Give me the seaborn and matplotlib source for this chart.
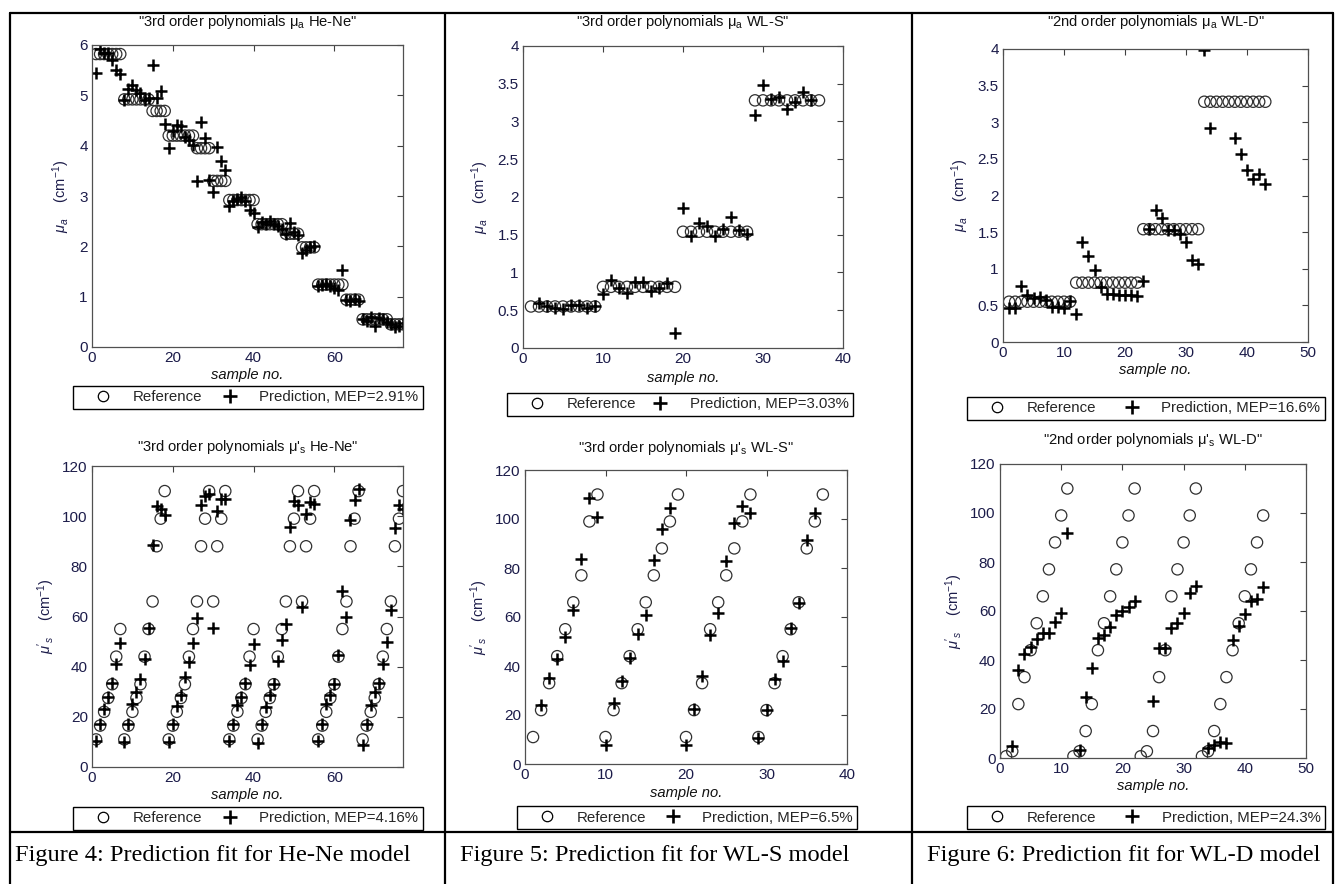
import numpy as np
import matplotlib
matplotlib.use("Agg")
import matplotlib.pyplot as plt
from matplotlib.lines import Line2D
from matplotlib.ticker import FuncFormatter
import seaborn as sns

sns.set_style("white")
plt.rcParams["font.family"] = ["Liberation Sans", "DejaVu Sans"]
plt.rcParams["mathtext.fontset"] = "custom"
plt.rcParams["mathtext.rm"] = "Liberation Sans"
plt.rcParams["mathtext.it"] = "Liberation Sans:italic"

# ---- data ----
hene_mua_ref = [5.82, 5.82, 5.82, 5.82, 5.82, 5.82, 5.82,
                4.92, 4.92, 4.92, 4.92, 4.92, 4.92, 4.92,
                4.69, 4.69, 4.69, 4.69,
                4.20, 4.20, 4.20, 4.20, 4.20, 4.20, 4.20,
                3.95, 3.95, 3.95, 3.95,
                3.30, 3.30, 3.30, 3.30,
                2.92, 2.92, 2.92, 2.92, 2.92, 2.92, 2.92,
                2.44, 2.44, 2.44, 2.44, 2.44, 2.44, 2.44,
                2.25, 2.25, 2.25, 2.25,
                1.98, 1.98, 1.98, 1.98,
                1.24, 1.24, 1.24, 1.24, 1.24, 1.24, 1.24,
                0.94, 0.94, 0.94, 0.94,
                0.55, 0.55, 0.55, 0.55, 0.55, 0.55, 0.55,
                0.45, 0.45, 0.45, 0.45]
hene_mua_pred = [5.44, 5.92, 5.85, 5.84, 5.70, 5.50, 5.42,
                 4.90, 5.12, 5.20, 5.10, 5.05, 4.90, 4.95,
                 5.60, 4.94, 5.08, 4.44,
                 3.95, 4.30, 4.42, 4.40, 4.18, 4.12, 4.02,
                 3.30, 4.47, 4.15, 3.32,
                 3.08, 3.97, 3.70, 3.52,
                 2.80, 2.90, 2.95, 2.98, 2.90, 2.72, 2.66,
                 2.38, 2.48, 2.45, 2.50, 2.44, 2.40, 2.35,
                 2.25, 2.47, 2.28, 2.22,
                 1.86, 1.93, 1.98, 2.00,
                 1.22, 1.24, 1.25, 1.22, 1.18, 1.13, 1.53,
                 0.94, 0.92, 0.95, 0.92,
                 0.55, 0.52, 0.60, 0.42, 0.58, 0.55, 0.50,
                 0.46, 0.40, 0.42, 0.48]
hene_mus_ref = [11, 16.5, 22, 27.5, 33, 44, 55,
                11, 16.5, 22, 27.5, 33, 44, 55,
                66, 88, 99, 110,
                11, 16.5, 22, 27.5, 33, 44, 55,
                66, 88, 99, 110,
                66, 88, 99, 110,
                11, 16.5, 22, 27.5, 33, 44, 55,
                11, 16.5, 22, 27.5, 33, 44, 55,
                66, 88, 99, 110,
                66, 88, 99, 110,
                11, 16.5, 22, 27.5, 33, 44, 55,
                66, 88, 99, 110,
                11, 16.5, 22, 27.5, 33, 44, 55,
                66, 88, 99, 110]
hene_mus_pred = [10.2, 17.3, 23.2, 27.9, 33.6, 41.2, 49.6,
                 10.0, 17.3, 25.2, 29.9, 35.0, 43.2, 55.4,
                 88.4, 104.0, 103.0, 100.6,
                 10.0, 17.3, 24.3, 28.8, 35.9, 41.9, 49.6,
                 59.4, 104.3, 108.0, 109.0,
                 55.4, 102.0, 106.7, 107.0,
                 10.2, 17.3, 24.6, 27.9, 33.6, 40.5, 49.2,
                 9.7, 17.3, 23.9, 28.6, 33.2, 42.1, 50.5,
                 57.1, 95.7, 105.9, 104.6,
                 63.8, 101.0, 105.6, 105.0,
                 10.2, 17.0, 25.2, 28.6, 33.2, 44.5, 70.0,
                 59.8, 98.3, 106.3, 111.0,
                 8.6, 17.3, 24.6, 29.9, 33.5, 41.2, 49.8,
                 62.5, 95.3, 104.3, 103.0]

wls_mua_ref = [0.55, 0.55, 0.55, 0.55, 0.55, 0.55, 0.55, 0.55, 0.55,
               0.81, 0.81, 0.81, 0.81, 0.81, 0.81, 0.81, 0.81, 0.81, 0.81,
               1.54, 1.54, 1.54, 1.54, 1.54, 1.54, 1.54, 1.54, 1.54,
               3.28, 3.28, 3.28, 3.28, 3.28, 3.28, 3.28, 3.28, 3.28]
wls_mua_pred = [np.nan, 0.59, 0.56, 0.53, 0.51, 0.57, 0.57, 0.53, 0.56,
                0.71, 0.90, 0.79, 0.73, 0.88, 0.88, 0.75, 0.79, 0.86, 0.20,
                1.85, 1.48, 1.65, 1.61, 1.48, 1.57, 1.74, 1.56, 1.51,
                3.08, 3.48, 3.30, 3.33, 3.16, 3.26, 3.39, 3.28, np.nan]
wls_mus_ref = [11, 22, 33, 44, 55, 66, 77, 99, 110,
               11, 22, 33, 44, 55, 66, 77, 88, 99, 110,
               11, 22, 33, 55, 66, 77, 88, 99, 110,
               11, 22, 33, 44, 55, 66, 88, 99, 110]
wls_mus_pred = [np.nan, 24.2, 35.0, 43.0, 51.8, 63.0, 83.7, 108.7, 101.0,
                7.9, 24.9, 33.7, 43.2, 53.1, 60.9, 83.3, 95.9, 104.6, np.nan,
                7.9, 22.5, 36.1, 52.7, 61.8, 82.9, 98.5, 105.4, 102.3,
                10.6, 22.1, 34.8, 42.1, 55.4, 65.6, 91.4, 102.3, np.nan]

wld_mua_ref = [0.55, 0.55, 0.55, 0.55, 0.55, 0.55, 0.55, 0.55, 0.55, 0.55, 0.55,
               0.81, 0.81, 0.81, 0.81, 0.81, 0.81, 0.81, 0.81, 0.81, 0.81, 0.81,
               1.54, 1.54, 1.54, 1.54, 1.54, 1.54, 1.54, 1.54, 1.54, 1.54,
               3.28, 3.28, 3.28, 3.28, 3.28, 3.28, 3.28, 3.28, 3.28, 3.28, 3.28]
wld_mua_pred = [0.46, 0.46, 0.76, 0.64, 0.60, 0.62, 0.58, 0.48, 0.48, 0.47, 0.56,
                0.38, 1.37, 1.18, 0.98, 0.75, 0.66, 0.66, 0.64, 0.64, 0.64, 0.63,
                0.83, 1.54, 1.80, 1.69, 1.53, 1.53, 1.47, 1.37, 1.12, 1.07,
                3.99, 2.92, np.nan, np.nan, np.nan, 2.78, 2.57, 2.35, 2.23, 2.30, 2.16]
wld_mus_ref = [0.7, 2.75, 22, 33, 44, 55, 66, 77, 88, 99, 110,
               0.7, 2.75, 11, 22, 44, 55, 66, 77, 88, 99, 110,
               0.7, 2.75, 11, 33, 44, 66, 77, 88, 99, 110,
               0.7, 2.75, 11, 22, 33, 44, 55, 66, 77, 88, 99]
wld_mus_pred = [np.nan, 4.8, 36.0, 42.4, 45.5, 48.5, 51.2, 51.2, 55.7, 59.1, 92.0,
                np.nan, 3.4, 25.1, 36.7, 48.9, 50.3, 53.3, 58.2, 60.0, 61.8, 63.9,
                np.nan, np.nan, 23.4, 44.8, 45.1, 53.0, 55.0, 59.1, 67.3, 70.2,
                np.nan, 4.1, 5.4, 6.5, 6.1, 48.2, 53.7, 58.7, 63.9, 65.0, 70.0]

titles = ['"3rd order polynomials μ$_{\\mathregular{a}}$ He-Ne"',
          '"3rd order polynomials μ$_{\\mathregular{a}}$ WL-S"',
          '"2nd order polynomials μ$_{\\mathregular{a}}$ WL-D"',
          '"3rd order polynomials μ\'$_{\\mathregular{s}}$ He-Ne"',
          '"3rd order polynomials μ\'$_{\\mathregular{s}}$ WL-S"',
          '"2nd order polynomials μ\'$_{\\mathregular{s}}$ WL-D"']
meps = ["2.91%", "3.03%", "16.6%", "4.16%", "6.5%", "24.3%"]
captions = ["Figure 4: Prediction fit for He-Ne model",
            "Figure 5: Prediction fit for WL-S model",
            "Figure 6: Prediction fit for WL-D model"]

W, H = 1336, 884
fig = plt.figure(figsize=(W / 100, H / 100), dpi=100)

def frac_rect(l, t, r, b):
    return [l / W, 1 - b / H, (r - l) / W, (b - t) / H]

# (ref, pred, xlim, xstep, ylim, ystep, axes box, title y, xlabel y, legend box)
panels = [
    (hene_mua_ref, hene_mua_pred, 77, 20, 6, 1, (92, 45, 403, 347), 22, 375, (73, 384, 423, 410)),
    (wls_mua_ref, wls_mua_pred, 40, 10, 4, 0.5, (523, 46, 843, 348), 22, 378, (507, 392, 853, 417)),
    (wld_mua_ref, wld_mua_pred, 50, 10, 4, 0.5, (1003, 49, 1308, 342), 22, 370, (967, 396, 1325, 420)),
    (hene_mus_ref, hene_mus_pred, 77, 20, 120, 20, (92, 466, 403, 767), 447, 795, (73, 806, 423, 830)),
    (wls_mus_ref, wls_mus_pred, 40, 10, 120, 20, (525, 470, 847, 764), 448, 793, (517, 805, 857, 830)),
    (wld_mus_ref, wld_mus_pred, 50, 10, 120, 20, (1000, 464, 1306, 758), 440, 786, (967, 805, 1325, 830)),
]

fmt = FuncFormatter(lambda v, p: "%g" % v)
tick_col = "#1c1c4a"

for i, (ref, pred, xmax, xstep, ymax, ystep, box, ty, xly, lbox) in enumerate(panels):
    ax = fig.add_axes(frac_rect(*box))
    samples = np.arange(1, len(ref) + 1)
    sns.scatterplot(x=samples, y=ref, marker="o", s=66, facecolor="none",
                    edgecolor="#303030", linewidth=0.9, ax=ax, legend=False)
    sns.scatterplot(x=samples, y=pred, marker="+", s=75, color="black",
                    linewidth=1.8, ax=ax, legend=False)
    ax.set_xlim(0, xmax)
    ax.set_ylim(0, ymax)
    ax.set_xticks(np.arange(0, xmax + 0.01, xstep))
    ax.set_yticks(np.arange(0, ymax + 0.001, ystep))
    ax.xaxis.set_major_formatter(fmt)
    ax.yaxis.set_major_formatter(fmt)
    ax.tick_params(direction="in", top=True, right=True, length=4, width=0.8,
                   labelsize=11, labelcolor=tick_col, color="#404040", pad=3)
    for sp in ax.spines.values():
        sp.set_color("#505050")
        sp.set_linewidth(0.9)
    ax.set_xlabel("")
    if i < 3:
        ax.set_ylabel("$\\mathit{\\mu_a}$    (cm$^{-1}$)", fontsize=10.5, color=tick_col, labelpad=5)
    else:
        ax.set_ylabel("$\\mathit{\\mu'_s}$    (cm$^{-1}$)", fontsize=10.5, color=tick_col, labelpad=4)
    cx = (box[0] + box[2]) / 2
    fig.text(cx / W, 1 - ty / H, titles[i], ha="center", va="center", fontsize=10.6, color="#111111")
    fig.text(cx / W, 1 - xly / H, "sample no.", ha="center", va="center", fontsize=10.6,
             style="italic", color="#111111")
    handles = [Line2D([], [], ls="none", marker="o", mfc="none", mec="black", ms=7.5, mew=0.9),
               Line2D([], [], ls="none", marker="+", color="black", ms=10, mew=1.9)]
    labels = ["Reference", "Prediction, MEP=" + meps[i]]
    l, t, r, b = lbox
    ax.legend(handles, labels, loc="center", ncol=2, mode="expand",
              bbox_to_anchor=(l / W, 1 - b / H, (r - l) / W, (b - t) / H),
              bbox_transform=fig.transFigure, fancybox=False, framealpha=1,
              edgecolor="black", fontsize=10.8, handlelength=3.4, handletextpad=0.25,
              borderpad=0.3, borderaxespad=0)
    ax.get_legend().get_frame().set_linewidth(1.0)

# table grid lines
def hline(y, x0, x1):
    fig.add_artist(Line2D([x0 / W, x1 / W], [1 - y / H, 1 - y / H], color="black", lw=1.6))

def vline(x, y0, y1):
    fig.add_artist(Line2D([x / W, x / W], [1 - y0 / H, 1 - y1 / H], color="black", lw=1.6))

hline(13, 10, 1333)
hline(832, 10, 1333)
for x in [10, 445, 912, 1333]:
    vline(x, 13, 884)

cap_x = [15, 460, 927]
for x, c in zip(cap_x, captions):
    fig.text(x / W, 1 - 855 / H, c, ha="left", va="center", fontsize=17.6,
             family=["Liberation Serif", "DejaVu Serif"], color="black")

fig.savefig("out.png", dpi=100)
